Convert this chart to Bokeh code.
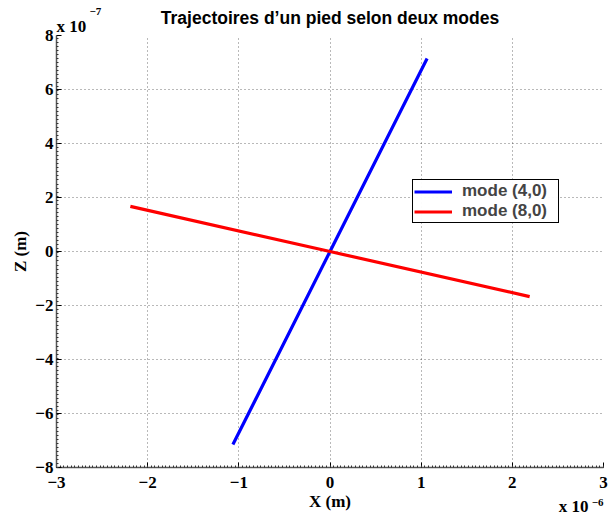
from bokeh.plotting import figure
from bokeh.models import (FixedTicker, Legend, LegendItem, ColumnDataSource, Range1d, Title)
from bokeh.embed import file_html
from bokeh.resources import INLINE

# X in units of 1e-6 m, Z in units of 1e-7 m
mode40_x = [-1.065, 0.0, 1.065]
mode40_z = [-7.15, 0.0, 7.15]
mode80_x = [-2.19, 0.0, 2.19]
mode80_z = [1.67, 0.0, -1.67]
labels = ["mode (4,0)", "mode (8,0)"]
x_ticks = [-3, -2, -1, 0, 1, 2, 3]
z_ticks = [-8, -6, -4, -2, 0, 2, 4, 6, 8]
title_text = "Trajectoires d\u2019un pied selon deux modes"
x_label = "X (m)"
z_label = "Z (m)"
x_exponent = "\u22126"
z_exponent = "\u22127"

def minus(v):
    return str(v).replace("-", "\u2212")

p = figure(width=615, height=524, output_backend="svg", toolbar_location=None, title=None,
           x_range=Range1d(-3, 3), y_range=Range1d(-8, 8),
           min_border_left=56, min_border_right=12, min_border_top=35, min_border_bottom=57)
p.frame_width = 547
p.frame_height = 432
p.outline_line_color = None
p.background_fill_color = "white"

s1 = ColumnDataSource(dict(x=mode40_x, z=mode40_z))
s2 = ColumnDataSource(dict(x=mode80_x, z=mode80_z))
r1 = p.line("x", "z", source=s1, line_color="#0000ff", line_width=3.2)
r2 = p.line("x", "z", source=s2, line_color="#ff0000", line_width=3.2)

x_minor = [x_ticks[0] + i * 0.04 for i in range(151)]
z_minor = [z_ticks[0] + i * 0.15 for i in range(107)]
for ax, ticks, minor in ((p.xaxis[0], x_ticks, x_minor), (p.yaxis[0], z_ticks, z_minor)):
    ax.ticker = FixedTicker(ticks=ticks, minor_ticks=minor)
    ax.major_label_overrides = {t: minus(t) for t in ticks}
    ax.major_label_text_font = "Liberation Serif"
    ax.major_label_text_font_style = "bold"
    ax.major_label_text_font_size = "17px"
    ax.major_label_text_color = "black"
    ax.major_tick_in = 5
    ax.major_tick_out = 0
    ax.minor_tick_in = 2
    ax.minor_tick_out = 0
    ax.axis_line_color = "#555555"
    ax.axis_line_width = 1.5
    ax.major_tick_line_color = "black"
    ax.minor_tick_line_color = "#333333"
    ax.axis_label_text_font = "Liberation Serif"
    ax.axis_label_text_font_style = "bold"
    ax.axis_label_text_font_size = "17px"
    ax.axis_label_text_color = "black"

p.xaxis[0].major_label_standoff = 9
p.xaxis[0].axis_label = x_label
p.xaxis[0].axis_label_standoff = 1
p.yaxis[0].major_label_standoff = 3
p.yaxis[0].axis_label = z_label
p.yaxis[0].axis_label_standoff = 2

for g in (p.xgrid[0], p.ygrid[0]):
    g.grid_line_color = "black"
    g.grid_line_alpha = 0.55
    g.grid_line_dash = "1 3"
    g.grid_line_width = 1

def ttl(text, font, size, align, offset, valign, standoff):
    return Title(text=text, text_font=font, text_font_style="bold", text_font_size=size,
                 text_color="black", align=align, offset=offset,
                 vertical_align=valign, standoff=standoff)

pad = "\n\u00a0"

# above: listed from the frame outward
p.add_layout(ttl("x 10", "Liberation Serif", "17px", "left", 0, "top", -4), "above")
p.add_layout(ttl(title_text, "Liberation Sans", "17.5px", "center", 0, "bottom", -18), "above")
p.add_layout(ttl(z_exponent, "Liberation Serif", "11px", "left", 33, "top", -13), "above")

# below: after the x axis, from the frame outward
p.add_layout(ttl(x_exponent + pad * 2, "Liberation Serif", "11px", "right", 0, "top", -36), "below")
p.add_layout(ttl("x 10" + pad, "Liberation Serif", "17px", "right", 15, "top", -38), "below")

legend = Legend(items=[LegendItem(label=labels[0], renderers=[r1]),
                       LegendItem(label=labels[1], renderers=[r2])],
                location=(356, 244))
legend.label_text_font = "Liberation Sans"
legend.label_text_font_style = "bold"
legend.label_text_font_size = "17px"
legend.border_line_color = "black"
legend.border_line_width = 1
legend.border_line_alpha = 1
legend.glyph_width = 38
legend.glyph_height = 17
legend.label_height = 17
legend.label_width = 95
legend.spacing = 0
legend.padding = 1
legend.margin = 0
legend.label_standoff = 10
p.add_layout(legend, "center")

open("out.html", "w").write(file_html(p, INLINE))
